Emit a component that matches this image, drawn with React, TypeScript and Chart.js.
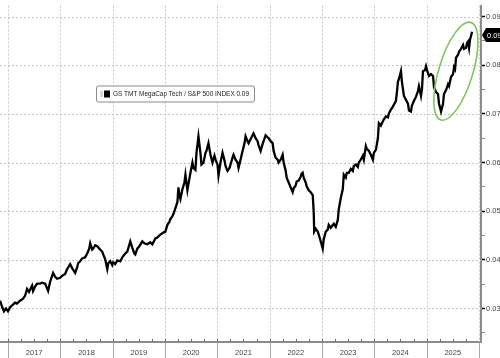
import React, { useEffect, useRef } from 'react';
import { Chart, registerables } from 'chart.js';

Chart.register(...registerables);

// Decimal-year dates of the observations
const DATES: number[] = [
  2016.847, 2016.885, 2016.923, 2016.962, 2017.0, 2017.038, 2017.077, 2017.134, 2017.172, 2017.23,
  2017.287, 2017.326, 2017.364, 2017.402, 2017.46, 2017.479, 2017.517, 2017.556, 2017.613, 2017.651,
  2017.709, 2017.766, 2017.805, 2017.843, 2017.862, 2017.9, 2017.939, 2017.996, 2018.034, 2018.092,
  2018.13, 2018.188, 2018.226, 2018.284, 2018.322, 2018.341, 2018.379, 2018.418, 2018.475, 2018.513,
  2018.552, 2018.571, 2018.609, 2018.628, 2018.667, 2018.705, 2018.762, 2018.801, 2018.82, 2018.858,
  2018.897, 2018.916, 2018.954, 2018.992, 2019.011, 2019.05, 2019.088, 2019.146, 2019.184, 2019.241,
  2019.28, 2019.337, 2019.375, 2019.414, 2019.433, 2019.471, 2019.51, 2019.567, 2019.605, 2019.663,
  2019.72, 2019.759, 2019.816, 2019.854, 2019.912, 2019.969, 2020.008, 2020.046, 2020.084, 2020.103,
  2020.142, 2020.161, 2020.199, 2020.238, 2020.257, 2020.276, 2020.295, 2020.333, 2020.372, 2020.391,
  2020.41, 2020.429, 2020.467, 2020.487, 2020.525, 2020.544, 2020.582, 2020.602, 2020.64, 2020.678,
  2020.697, 2020.736, 2020.774, 2020.793, 2020.831, 2020.87, 2020.908, 2020.946, 2020.966, 2021.004,
  2021.023, 2021.061, 2021.1, 2021.138, 2021.157, 2021.195, 2021.234, 2021.253, 2021.291, 2021.31,
  2021.349, 2021.387, 2021.406, 2021.444, 2021.483, 2021.521, 2021.54, 2021.579, 2021.598, 2021.636,
  2021.674, 2021.693, 2021.732, 2021.77, 2021.789, 2021.828, 2021.866, 2021.904, 2021.923, 2021.962,
  2021.981, 2022.019, 2022.057, 2022.077, 2022.115, 2022.153, 2022.172, 2022.211, 2022.249, 2022.268,
  2022.307, 2022.326, 2022.364, 2022.402, 2022.441, 2022.46, 2022.498, 2022.517, 2022.556, 2022.594,
  2022.613, 2022.632, 2022.651, 2022.69, 2022.709, 2022.747, 2022.785, 2022.824, 2022.843, 2022.852,
  2022.881, 2022.92, 2022.939, 2022.977, 2023.015, 2023.034, 2023.073, 2023.111, 2023.13, 2023.169,
  2023.226, 2023.264, 2023.303, 2023.322, 2023.36, 2023.398, 2023.418, 2023.456, 2023.475, 2023.513,
  2023.552, 2023.59, 2023.609, 2023.648, 2023.686, 2023.705, 2023.743, 2023.782, 2023.801, 2023.839,
  2023.858, 2023.897, 2023.935, 2023.973, 2023.992, 2024.031, 2024.069, 2024.088, 2024.126, 2024.165,
  2024.184, 2024.222, 2024.261, 2024.28, 2024.318, 2024.356, 2024.395, 2024.414, 2024.433, 2024.452,
  2024.471, 2024.51, 2024.529, 2024.567, 2024.605, 2024.644, 2024.663, 2024.701, 2024.72, 2024.759,
  2024.797, 2024.835, 2024.854, 2024.893, 2024.912, 2024.931, 2024.969, 2024.989, 2025.008, 2025.046,
  2025.084, 2025.123, 2025.142, 2025.18, 2025.218, 2025.238, 2025.257, 2025.276, 2025.295, 2025.314,
  2025.333, 2025.372, 2025.41, 2025.429, 2025.467, 2025.506, 2025.525, 2025.544, 2025.563, 2025.602,
  2025.621, 2025.659, 2025.697, 2025.716, 2025.755, 2025.774, 2025.793, 2025.812, 2025.831, 2025.87,
];

// GS TMT MegaCap Tech / S&P 500 ratio
const RATIO: number[] = [
  0.0316, 0.0304, 0.0294, 0.03, 0.0294, 0.0302, 0.0306, 0.0312, 0.031, 0.0316,
  0.032, 0.0326, 0.034, 0.0334, 0.0347, 0.0336, 0.0345, 0.0351, 0.0351, 0.0353,
  0.0351, 0.0336, 0.0355, 0.0367, 0.0373, 0.0365, 0.0361, 0.0363, 0.0367, 0.0371,
  0.0381, 0.0391, 0.0383, 0.0373, 0.0385, 0.0393, 0.0397, 0.0403, 0.0405, 0.0413,
  0.0423, 0.0434, 0.0421, 0.0423, 0.043, 0.0428, 0.0421, 0.0417, 0.0411, 0.0401,
  0.0381, 0.0393, 0.0397, 0.0389, 0.0395, 0.0391, 0.0399, 0.0397, 0.0405, 0.0413,
  0.0417, 0.0438, 0.0425, 0.0413, 0.0411, 0.0423, 0.0428, 0.0438, 0.0434, 0.0432,
  0.0436, 0.0432, 0.0444, 0.0446, 0.0452, 0.0456, 0.0458, 0.0472, 0.0478, 0.0484,
  0.049, 0.0494, 0.0506, 0.0519, 0.0549, 0.0533, 0.0525, 0.0545, 0.0559, 0.0575,
  0.0559, 0.0543, 0.0567, 0.0579, 0.06, 0.0589, 0.0585, 0.062, 0.0654, 0.062,
  0.0596, 0.06, 0.062, 0.0624, 0.064, 0.0616, 0.06, 0.0614, 0.0606, 0.0596,
  0.0573, 0.06, 0.062, 0.0604, 0.0593, 0.0583, 0.0589, 0.0596, 0.061, 0.0616,
  0.0606, 0.06, 0.0589, 0.0606, 0.0624, 0.064, 0.0654, 0.0644, 0.064, 0.0648,
  0.0656, 0.066, 0.065, 0.0644, 0.0636, 0.0624, 0.0638, 0.065, 0.0656, 0.0652,
  0.065, 0.0644, 0.064, 0.0624, 0.061, 0.0606, 0.06, 0.0606, 0.0616, 0.06,
  0.0583, 0.0569, 0.0559, 0.0549, 0.0539, 0.0547, 0.0553, 0.0561, 0.0563, 0.0571,
  0.0577, 0.0579, 0.0569, 0.0559, 0.0551, 0.0543, 0.0539, 0.0533, 0.0498, 0.0458,
  0.0464, 0.0458, 0.0452, 0.0438, 0.0423, 0.0442, 0.0458, 0.0462, 0.0472, 0.0466,
  0.0474, 0.0468, 0.0482, 0.0504, 0.0527, 0.0545, 0.0575, 0.0569, 0.0579, 0.0579,
  0.0587, 0.0583, 0.0593, 0.0596, 0.0591, 0.06, 0.0606, 0.0614, 0.0606, 0.0634,
  0.0628, 0.0624, 0.0616, 0.0606, 0.062, 0.0626, 0.065, 0.0681, 0.0676, 0.0685,
  0.0689, 0.0695, 0.0693, 0.0701, 0.0709, 0.0715, 0.0723, 0.0727, 0.0745, 0.0766,
  0.0772, 0.0788, 0.0766, 0.0737, 0.0729, 0.0721, 0.0707, 0.0705, 0.0717, 0.0727,
  0.0735, 0.0747, 0.0757, 0.0737, 0.0751, 0.0788, 0.079, 0.0798, 0.079, 0.0778,
  0.0782, 0.0778, 0.0755, 0.0745, 0.0741, 0.0721, 0.0713, 0.0705, 0.0713, 0.0721,
  0.0741, 0.0749, 0.0761, 0.0757, 0.0776, 0.0782, 0.0796, 0.0792, 0.0816, 0.0822,
  0.0828, 0.0834, 0.0842, 0.0834, 0.0836, 0.0846, 0.0849, 0.0836, 0.0853, 0.0869,
];

const YEAR_LABELS: string[] = ['2017', '2018', '2019', '2020', '2021', '2022', '2023', '2024', '2025'];
const YEAR_BOUNDS: number[] = [2017, 2018, 2019, 2020, 2021, 2022, 2023, 2024, 2025, 2026];
const Y_TICKS: number[] = [0.03, 0.04, 0.05, 0.06, 0.07, 0.08, 0.09];
const Y_MINOR: number[] = [0.025, 0.035, 0.045, 0.055, 0.065, 0.075, 0.085];
const SERIES_NAME = 'GS TMT MegaCap Tech / S&P 500 INDEX';

const X_MIN = 2016.847;
const X_MAX = 2026.04;
const Y_MIN = 0.0231;
const Y_MAX = 0.0923;

// highlight ellipse centre (in data units)
const HIGHLIGHT = { x: 2025.56, y: 0.0788 };

const FONT = "'Liberation Sans', Arial, sans-serif";

const isMajor = (v: number) => Y_TICKS.some((t) => Math.abs(t - v) < 1e-9);

const decorPlugin = {
  id: 'decor',
  beforeDatasetsDraw(chart: any) {
    const { ctx, chartArea: a, scales } = chart;
    const x = scales.x;
    const y = scales.y;
    ctx.save();
    ctx.strokeStyle = '#c6c6c6';
    ctx.lineWidth = 1;
    ctx.setLineDash([2, 2]);
    for (const v of Y_TICKS) {
      const py = Math.round(y.getPixelForValue(v)) + 0.5;
      ctx.beginPath();
      ctx.moveTo(a.left, py);
      ctx.lineTo(a.right, py);
      ctx.stroke();
    }
    for (const yr of YEAR_BOUNDS) {
      const px = Math.round(x.getPixelForValue(yr)) + 0.5;
      if (px > a.right - 1) continue;
      ctx.beginPath();
      ctx.moveTo(px, a.top);
      ctx.lineTo(px, a.bottom);
      ctx.stroke();
    }
    ctx.restore();
  },
  afterDatasetsDraw(chart: any) {
    const { ctx, scales } = chart;
    const x = scales.x;
    const y = scales.y;
    // green highlight ellipse
    ctx.save();
    ctx.strokeStyle = '#82c45e';
    ctx.lineWidth = 1.6;
    ctx.beginPath();
    ctx.ellipse(
      x.getPixelForValue(HIGHLIGHT.x),
      y.getPixelForValue(HIGHLIGHT.y),
      17,
      51,
      (17 * Math.PI) / 180,
      0,
      Math.PI * 2
    );
    ctx.stroke();
    ctx.restore();
  },
  afterDraw(chart: any) {
    const { ctx, chartArea: a, scales } = chart;
    const x = scales.x;
    const y = scales.y;
    ctx.save();
    // year separators below axis
    ctx.strokeStyle = '#a8a8a8';
    ctx.lineWidth = 1;
    for (const yr of YEAR_BOUNDS) {
      const px = Math.round(x.getPixelForValue(yr)) + 0.5;
      ctx.beginPath();
      ctx.moveTo(px, a.bottom + 1);
      ctx.lineTo(px, chart.height);
      ctx.stroke();
    }
    // quarter ticks above the bottom axis
    ctx.strokeStyle = '#6f6f6f';
    for (const yr of YEAR_BOUNDS.slice(0, -1)) {
      for (let q = 0; q < 4; q++) {
        const px = Math.round(x.getPixelForValue(yr + q * 0.25)) + 0.5;
        ctx.beginPath();
        ctx.moveTo(px, a.bottom - 3);
        ctx.lineTo(px, a.bottom);
        ctx.stroke();
      }
    }
    // last value tag
    const last = RATIO[RATIO.length - 1];
    const py = Math.round(y.getPixelForValue(last)) + 3;
    const x0 = a.right + 1;
    ctx.fillStyle = '#000';
    ctx.beginPath();
    ctx.moveTo(x0, py);
    ctx.lineTo(x0 + 4, py - 7);
    ctx.lineTo(chart.width, py - 7);
    ctx.lineTo(chart.width, py + 7);
    ctx.lineTo(x0 + 4, py + 7);
    ctx.closePath();
    ctx.fill();
    ctx.fillStyle = '#fff';
    ctx.font = `7.5px ${FONT}`;
    ctx.textBaseline = 'middle';
    ctx.textAlign = 'left';
    ctx.fillText(last.toFixed(2), x0 + 5, py + 0.5);

    // legend box
    const lx = a.left + 96;
    const ly = a.top + 80;
    const text = `${SERIES_NAME} ${last.toFixed(2)}`;
    ctx.font = `7px ${FONT}`;
    const tw = Math.min(ctx.measureText(text).width, 136);
    const bw = tw + 22;
    ctx.fillStyle = '#fff';
    ctx.strokeStyle = '#8a8a8a';
    ctx.lineWidth = 1;
    ctx.beginPath();
    ctx.roundRect(lx + 0.5, ly + 0.5, bw, 16, 2);
    ctx.fill();
    ctx.stroke();
    ctx.fillStyle = '#b0b0b0';
    ctx.fillRect(lx + 4, ly + 6, 3, 1);
    ctx.fillRect(lx + 4, ly + 8, 3, 1);
    ctx.fillRect(lx + 4, ly + 10, 3, 1);
    ctx.fillStyle = '#000';
    ctx.fillRect(lx + 8, ly + 5, 6, 7);
    ctx.fillStyle = '#222';
    ctx.textBaseline = 'middle';
    ctx.fillText(text, lx + 17, ly + 9, 136);
    ctx.restore();
  },
};

export default function App() {
  const canvasRef = useRef<HTMLCanvasElement | null>(null);

  useEffect(() => {
    const canvas = canvasRef.current;
    if (!canvas) return;
    const points = DATES.map((d, i) => ({ x: d, y: RATIO[i] }));
    const chart = new Chart(canvas, {
      type: 'line',
      data: {
        datasets: [
          {
            label: SERIES_NAME,
            data: points,
            borderColor: '#000',
            borderWidth: 2.3,
            borderJoinStyle: 'miter',
            pointRadius: 0,
            tension: 0,
            fill: false,
          },
        ],
      },
      options: {
        animation: false,
        responsive: false,
        parsing: false as any,
        layout: { padding: 0 },
        plugins: {
          legend: { display: false },
          tooltip: { enabled: false },
        },
        scales: {
          x: {
            type: 'linear',
            position: 'bottom',
            min: X_MIN,
            max: X_MAX,
            afterBuildTicks: (s: any) => {
              s.ticks = YEAR_LABELS.map((l) => ({ value: Number(l) + 0.5 }));
            },
            afterFit: (s: any) => {
              s.height = 16;
            },
            ticks: {
              autoSkip: false,
              maxRotation: 0,
              minRotation: 0,
              padding: 6,
              color: '#444',
              font: { family: FONT, size: 7.5 },
              callback: (v: any) => String(Math.floor(Number(v))),
            },
            grid: { display: false, drawTicks: false },
            border: { display: true, color: '#8c8c8c', width: 2 },
          },
          y: {
            type: 'linear',
            position: 'right',
            min: Y_MIN,
            max: Y_MAX,
            afterBuildTicks: (s: any) => {
              s.ticks = [...Y_MINOR, ...Y_TICKS].sort((p, q) => p - q).map((v) => ({ value: v }));
            },
            afterFit: (s: any) => {
              s.width = 19;
            },
            ticks: {
              autoSkip: false,
              padding: 1,
              color: '#444',
              font: { family: FONT, size: 7.5 },
              callback: (v: any) => (isMajor(Number(v)) ? Number(v).toFixed(2) : ''),
            },
            grid: {
              display: true,
              drawOnChartArea: false,
              drawTicks: true,
              tickLength: 4,
              tickColor: (c: any) => (c.tick && isMajor(c.tick.value) ? '#000' : '#888'),
              tickWidth: (c: any) => (c.tick && isMajor(c.tick.value) ? 1.5 : 1),
            },
            border: { display: true, color: '#8c8c8c', width: 2 },
          },
        },
      },
      plugins: [decorPlugin],
    });
    return () => chart.destroy();
  }, []);

  return (
    <div style={{ position: 'fixed', left: 0, top: 0, width: 500, height: 358, background: '#fff' }}>
      <canvas ref={canvasRef} width={500} height={358} style={{ display: 'block' }} />
    </div>
  );
}
